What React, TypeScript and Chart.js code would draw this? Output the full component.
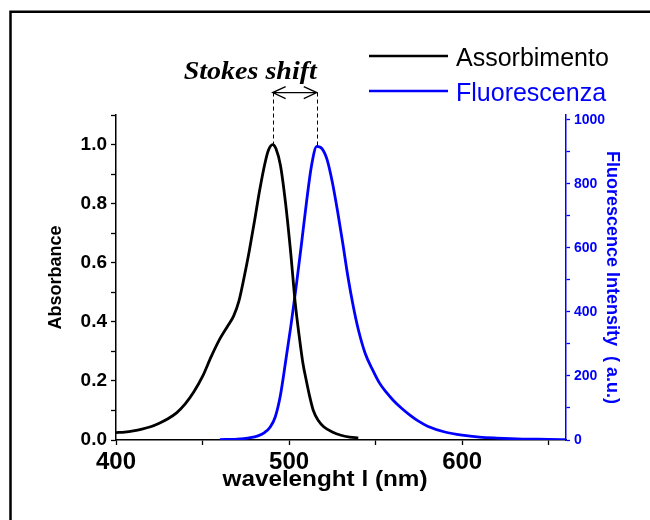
import React, { useEffect, useRef } from "react";
import { Chart, registerables } from "chart.js";

Chart.register(...registerables);

// ---------- data ----------
const absWavelengths = [400, 405, 410, 415, 420, 425, 430, 435, 440, 445, 450, 455, 460, 465, 468, 471, 474, 477, 480, 483, 486, 488, 490.5, 492.5, 495, 498, 501, 503.5, 506, 508, 510, 512, 514, 517, 520, 525, 530, 535, 540];
const absValues = [0.025, 0.027, 0.031, 0.037, 0.045, 0.057, 0.072, 0.092, 0.122, 0.163, 0.215, 0.282, 0.342, 0.39, 0.42, 0.47, 0.55, 0.64, 0.74, 0.845, 0.935, 0.98, 1.0, 0.985, 0.93, 0.8, 0.63, 0.467, 0.345, 0.26, 0.2, 0.145, 0.1, 0.065, 0.045, 0.027, 0.016, 0.01, 0.007];

const fluoWavelengths = [460, 470, 477, 482, 486, 489, 492, 495, 498, 501, 504, 507, 510, 513, 516, 519, 522, 525, 528, 531, 534, 537, 540, 544, 548, 552, 556, 560, 565, 570, 575, 580, 590, 600, 610, 620, 635, 650, 660];
const fluoValues = [1, 3, 7, 13, 24, 40, 72, 140, 245, 355, 475, 605, 740, 858, 917, 910, 875, 805, 715, 615, 510, 420, 345, 270, 222, 180, 150, 125, 99, 77, 58, 43, 25, 15, 9, 6, 3, 2, 1];

const xTickLabels = [400, 500, 600];
const absTickLabels = [0, 0.2, 0.4, 0.6, 0.8, 1.0];
const fluoTickLabels = [0, 200, 400, 600, 800, 1000];

const absLabel = "Assorbimento";
const fluoLabel = "Fluorescenza";
const xTitle = "wavelenght l (nm)";
const yTitle = "Absorbance";
const y1Title = "Fluorescence Intensity  ( a.u.)";
const shiftText = "Stokes shift";

const BLUE = "#0000ff";
const SANS = "'Liberation Sans', Arial, sans-serif";
const SERIF = "'Liberation Serif', 'Times New Roman', serif";

function near(list: number[], v: number, eps: number) {
  return list.some((t) => Math.abs(t - v) < eps);
}

function fillFit(ctx: CanvasRenderingContext2D, text: string, x: number, y: number, font: string, width: number, align: CanvasTextAlign) {
  ctx.save();
  ctx.font = font;
  const w = ctx.measureText(text).width;
  ctx.translate(x, y);
  ctx.scale(width / w, 1);
  ctx.textAlign = align;
  ctx.textBaseline = "alphabetic";
  ctx.fillText(text, 0, 0);
  ctx.restore();
}

function peakIndex(vals: number[]) {
  let k = 0;
  vals.forEach((v, i) => {
    if (v > vals[k]) k = i;
  });
  return k;
}

const decorPlugin = {
  id: "decor",
  afterDraw(chart: any) {
    const ctx: CanvasRenderingContext2D = chart.ctx;
    const xs = chart.scales.x;
    const ys = chart.scales.y;
    const y1 = chart.scales.y1;
    ctx.save();

    // outer frame (top & left)
    ctx.strokeStyle = "#000";
    ctx.lineWidth = 2.5;
    ctx.beginPath();
    ctx.moveTo(10.5, 522);
    ctx.lineTo(10.5, 11.7);
    ctx.lineTo(652, 11.7);
    ctx.stroke();

    // x title
    ctx.fillStyle = "#000";
    fillFit(ctx, xTitle, 325, 486, `bold 22px ${SANS}`, 205, "center");

    // legend
    ctx.lineWidth = 2.5;
    ctx.strokeStyle = "#000";
    ctx.beginPath();
    ctx.moveTo(369, 56);
    ctx.lineTo(448, 56);
    ctx.stroke();
    ctx.strokeStyle = BLUE;
    ctx.beginPath();
    ctx.moveTo(369, 91);
    ctx.lineTo(448, 91);
    ctx.stroke();
    ctx.font = `25px ${SANS}`;
    ctx.textAlign = "left";
    ctx.textBaseline = "alphabetic";
    ctx.fillStyle = "#000";
    ctx.fillText(absLabel, 456, 66);
    ctx.fillStyle = BLUE;
    ctx.fillText(fluoLabel, 456, 101);

    // Stokes shift markers
    const ia = peakIndex(absValues);
    const ifl = peakIndex(fluoValues);
    const pxA = xs.getPixelForValue(absWavelengths[ia]);
    const pyA = ys.getPixelForValue(absValues[ia]);
    const pxF = xs.getPixelForValue(fluoWavelengths[ifl]);
    const pyF = y1.getPixelForValue(fluoValues[ifl]);
    const arrowY = ys.getPixelForValue(1.176);

    ctx.strokeStyle = "#000";
    ctx.lineWidth = 1;
    ctx.setLineDash([4, 3]);
    ctx.beginPath();
    ctx.moveTo(Math.round(pxA) + 0.5, arrowY);
    ctx.lineTo(Math.round(pxA) + 0.5, pyA);
    ctx.moveTo(Math.round(pxF) + 0.5, arrowY);
    ctx.lineTo(Math.round(pxF) + 0.5, pyF);
    ctx.stroke();
    ctx.setLineDash([]);

    ctx.lineWidth = 1.3;
    ctx.beginPath();
    ctx.moveTo(pxA, arrowY);
    ctx.lineTo(pxF, arrowY);
    ctx.moveTo(pxA + 13, arrowY - 6);
    ctx.lineTo(pxA, arrowY);
    ctx.lineTo(pxA + 13, arrowY + 6);
    ctx.moveTo(pxF - 13, arrowY - 6);
    ctx.lineTo(pxF, arrowY);
    ctx.lineTo(pxF - 13, arrowY + 6);
    ctx.stroke();

    ctx.fillStyle = "#000";
    fillFit(ctx, shiftText, pxF, arrowY - 14, `bold italic 26px ${SERIF}`, 133, "right");

    ctx.restore();
  },
};

export default function App() {
  const ref = useRef<HTMLCanvasElement | null>(null);

  useEffect(() => {
    if (!ref.current) return;
    const chart = new Chart(ref.current, {
      type: "line",
      data: {
        datasets: [
          {
            label: absLabel,
            data: absWavelengths.map((w, i) => ({ x: w, y: absValues[i] })),
            borderColor: "#000",
            borderWidth: 2.8,
            pointRadius: 0,
            cubicInterpolationMode: "monotone",
            yAxisID: "y",
          },
          {
            label: fluoLabel,
            data: fluoWavelengths.map((w, i) => ({ x: w, y: fluoValues[i] })),
            borderColor: BLUE,
            borderWidth: 2.8,
            pointRadius: 0,
            cubicInterpolationMode: "monotone",
            yAxisID: "y1",
          },
        ],
      },
      options: {
        responsive: false,
        animation: false,
        events: [],
        layout: { padding: { top: 115, left: 0, right: 0, bottom: 0 } },
        plugins: { legend: { display: false }, title: { display: false }, tooltip: { enabled: false } },
        scales: {
          x: {
            type: "linear",
            position: "bottom",
            min: 400,
            max: 660,
            afterFit: (s: any) => {
              s.height = 80;
            },
            ticks: {
              stepSize: 50,
              includeBounds: false,
              autoSkip: false,
              maxRotation: 0,
              padding: 3,
              color: "#000",
              font: { family: SANS, size: 24, weight: "bold" },
              callback: (v: any) => (near(xTickLabels, Number(v), 0.01) ? String(v) : ""),
            },
            grid: { drawOnChartArea: false, drawTicks: true, tickLength: 5, tickWidth: 1.3, tickColor: "#000" },
            border: { display: true, color: "#000", width: 1.5 },
          },
          y: {
            type: "linear",
            position: "left",
            min: 0,
            max: 1.1,
            afterFit: (s: any) => {
              s.width = 116;
            },
            ticks: {
              stepSize: 0.1,
              autoSkip: false,
              padding: 4,
              color: "#000",
              font: { family: SANS, size: 19, weight: "bold" },
              callback: (v: any) => (near(absTickLabels, Number(v), 0.001) ? Number(v).toFixed(1) : ""),
            },
            grid: { drawOnChartArea: false, drawTicks: true, tickLength: 5, tickWidth: 1.3, tickColor: "#000" },
            border: { display: true, color: "#000", width: 1.5 },
            title: {
              display: true,
              text: yTitle,
              color: "#000",
              font: { family: SANS, size: 18, weight: "bold" },
              padding: { top: 45, bottom: 0 },
            },
          },
          y1: {
            type: "linear",
            position: "right",
            min: 0,
            max: 1015,
            afterFit: (s: any) => {
              s.width = 84;
            },
            ticks: {
              stepSize: 100,
              includeBounds: false,
              autoSkip: false,
              padding: 4,
              color: BLUE,
              font: { family: SANS, size: 14, weight: "bold" },
              callback: (v: any) => (near(fluoTickLabels, Number(v), 0.5) ? String(v) : ""),
            },
            grid: { drawOnChartArea: false, drawTicks: true, tickLength: 4, tickWidth: 1.3, tickColor: BLUE },
            border: { display: true, color: BLUE, width: 1.5 },
            title: {
              display: true,
              text: y1Title,
              color: BLUE,
              font: { family: SANS, size: 18, weight: "bold" },
              padding: { top: 27, bottom: 0 },
            },
          },
        },
      } as any,
      plugins: [decorPlugin],
    });
    return () => chart.destroy();
  }, []);

  return (
    <div style={{ position: "absolute", left: 0, top: 0, width: 650, height: 520, background: "#fff" }}>
      <canvas ref={ref} width={650} height={520} style={{ width: 650, height: 520, display: "block" }} />
    </div>
  );
}
